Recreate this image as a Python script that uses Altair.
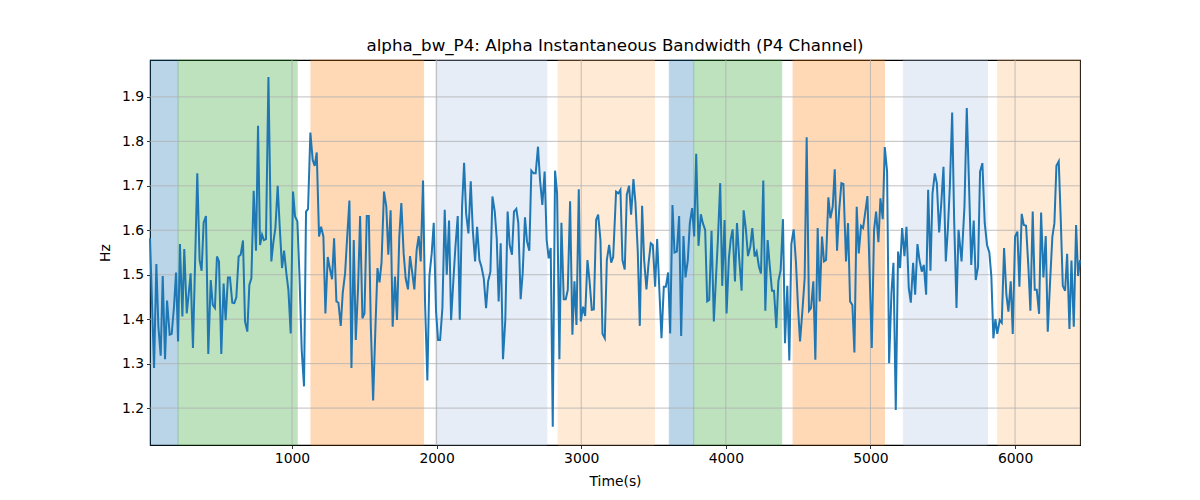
import altair as alt
import pandas as pd

TIME_S = [18, 46, 62, 76, 92, 106, 122, 136, 154, 168, 184, 198, 212, 225, 242, 255, 272, 285, 299, 315,
          330, 345, 361, 375, 389, 405, 421, 438, 452, 467, 481, 495, 511, 527, 541, 557, 571, 587, 601, 615,
          631, 645, 661, 675, 691, 705, 719, 735, 751, 765, 779, 793, 806, 820, 837, 857, 871, 885, 901, 915,
          931, 945, 961, 975, 991, 1007, 1021, 1037, 1051, 1067, 1083, 1097, 1111, 1127, 1143, 1157, 1171, 1187, 1201, 1217,
          1231, 1247, 1261, 1277, 1291, 1307, 1321, 1337, 1351, 1367, 1381, 1397, 1411, 1427, 1441, 1457, 1471, 1487, 1501, 1517,
          1531, 1545, 1561, 1577, 1591, 1605, 1619, 1636, 1652, 1666, 1682, 1696, 1712, 1726, 1742, 1756, 1772, 1786, 1802, 1816,
          1832, 1846, 1862, 1876, 1890, 1906, 1920, 1936, 1950, 1966, 1980, 1996, 2010, 2024, 2040, 2056, 2070, 2086, 2100, 2116,
          2130, 2146, 2160, 2176, 2190, 2204, 2220, 2236, 2250, 2266, 2280, 2296, 2310, 2326, 2342, 2356, 2372, 2386, 2402, 2416,
          2429, 2443, 2459, 2475, 2491, 2505, 2521, 2535, 2551, 2565, 2581, 2595, 2611, 2625, 2641, 2655, 2671, 2685, 2701, 2715,
          2731, 2747, 2761, 2775, 2789, 2803, 2819, 2833, 2849, 2863, 2879, 2893, 2907, 2923, 2939, 2953, 2967, 2983, 2997, 3013,
          3027, 3043, 3057, 3073, 3087, 3103, 3117, 3133, 3147, 3163, 3177, 3193, 3207, 3221, 3241, 3257, 3271, 3285, 3301, 3315,
          3331, 3345, 3361, 3375, 3391, 3405, 3421, 3435, 3451, 3465, 3481, 3495, 3511, 3525, 3541, 3555, 3571, 3585, 3601, 3615,
          3631, 3645, 3661, 3677, 3691, 3707, 3721, 3737, 3751, 3767, 3781, 3795, 3811, 3827, 3841, 3857, 3871, 3885, 3901, 3917,
          3931, 3945, 3961, 3975, 3991, 4005, 4021, 4034, 4047, 4063, 4077, 4093, 4109, 4123, 4139, 4153, 4169, 4183, 4199, 4213,
          4229, 4243, 4259, 4273, 4289, 4303, 4319, 4333, 4349, 4363, 4379, 4395, 4409, 4425, 4439, 4453, 4469, 4485, 4499, 4513,
          4529, 4545, 4559, 4575, 4589, 4605, 4619, 4635, 4649, 4665, 4679, 4693, 4709, 4723, 4739, 4753, 4769, 4783, 4799, 4813,
          4831, 4845, 4859, 4875, 4889, 4905, 4919, 4935, 4949, 4963, 4979, 4993, 5009, 5025, 5039, 5055, 5069, 5085, 5099, 5115,
          5129, 5145, 5159, 5175, 5191, 5205, 5219, 5235, 5249, 5265, 5279, 5295, 5309, 5325, 5339, 5355, 5369, 5385, 5399, 5415,
          5429, 5445, 5459, 5475, 5489, 5505, 5521, 5535, 5549, 5565, 5579, 5595, 5609, 5630, 5650, 5666, 5682, 5697, 5714, 5728,
          5744, 5758, 5774, 5790, 5806, 5822, 5836, 5850, 5864, 5877, 5894, 5908, 5924, 5940, 5954, 5970, 5984, 6000, 6016, 6030,
          6046, 6060, 6076, 6092, 6106, 6122, 6136, 6150, 6166, 6180, 6196, 6212, 6226, 6242, 6258, 6272, 6286, 6302, 6316, 6330,
          6346, 6360, 6376, 6390, 6406, 6422, 6436, 6449]

BW_HZ = [1.582, 1.29, 1.524, 1.383, 1.318, 1.497, 1.31, 1.442, 1.365, 1.367, 1.428, 1.505, 1.35, 1.569, 1.406, 1.558, 1.413, 1.455, 1.503, 1.335,
         1.53, 1.728, 1.533, 1.509, 1.617, 1.632, 1.322, 1.488, 1.432, 1.425, 1.541, 1.53, 1.322, 1.48, 1.398, 1.494, 1.494, 1.437, 1.436, 1.449,
         1.541, 1.545, 1.577, 1.395, 1.372, 1.477, 1.492, 1.689, 1.554, 1.835, 1.567, 1.59, 1.578, 1.58, 1.945, 1.53, 1.573, 1.605, 1.70, 1.608,
         1.515, 1.554, 1.503, 1.466, 1.368, 1.687, 1.631, 1.62, 1.503, 1.331, 1.249, 1.642, 1.648, 1.82, 1.758, 1.745, 1.775, 1.586, 1.608, 1.586,
         1.413, 1.54, 1.515, 1.49, 1.582, 1.44, 1.437, 1.385, 1.46, 1.503, 1.582, 1.667, 1.29, 1.578, 1.353, 1.473, 1.632, 1.402, 1.413, 1.632,
         1.632, 1.383, 1.217, 1.383, 1.515, 1.483, 1.527, 1.687, 1.653, 1.545, 1.645, 1.383, 1.496, 1.398, 1.586, 1.661, 1.548, 1.492, 1.467, 1.542,
         1.503, 1.467, 1.556, 1.587, 1.53, 1.712, 1.436, 1.262, 1.497, 1.548, 1.617, 1.417, 1.353, 1.353, 1.425, 1.646, 1.5, 1.622, 1.398, 1.488,
         1.563, 1.632, 1.399, 1.653, 1.752, 1.638, 1.593, 1.71, 1.601, 1.53, 1.608, 1.533, 1.518, 1.492, 1.425, 1.485, 1.507, 1.676, 1.642, 1.58,
         1.44, 1.571, 1.31, 1.398, 1.642, 1.567, 1.545, 1.642, 1.648, 1.616, 1.445, 1.503, 1.629, 1.575, 1.554, 1.734, 1.728, 1.728, 1.788, 1.713,
         1.657, 1.732, 1.578, 1.537, 1.56, 1.158, 1.734, 1.683, 1.31, 1.617, 1.445, 1.445, 1.466, 1.665, 1.365, 1.485, 1.387, 1.692, 1.395, 1.428,
         1.407, 1.533, 1.488, 1.421, 1.422, 1.623, 1.635, 1.578, 1.367, 1.357, 1.533, 1.567, 1.527, 1.54, 1.687, 1.683, 1.691, 1.533, 1.512, 1.68,
         1.70, 1.635, 1.715, 1.661, 1.552, 1.385, 1.655, 1.533, 1.467, 1.524, 1.571, 1.567, 1.473, 1.58, 1.46, 1.357, 1.473, 1.473, 1.505, 1.368,
         1.657, 1.55, 1.552, 1.632, 1.362, 1.587, 1.494, 1.533, 1.616, 1.65, 1.586, 1.772, 1.565, 1.636, 1.616, 1.601, 1.44, 1.443, 1.599, 1.395,
         1.488, 1.578, 1.706, 1.475, 1.623, 1.413, 1.537, 1.58, 1.602, 1.485, 1.616, 1.533, 1.464, 1.645, 1.601, 1.542, 1.563, 1.605, 1.541, 1.552,
         1.518, 1.503, 1.712, 1.419, 1.578, 1.522, 1.464, 1.464, 1.38, 1.485, 1.511, 1.625, 1.346, 1.475, 1.307, 1.569, 1.602, 1.527, 1.428, 1.35,
         1.417, 1.492, 1.809, 1.419, 1.425, 1.485, 1.309, 1.605, 1.44, 1.586, 1.53, 1.533, 1.674, 1.627, 1.653, 1.737, 1.554, 1.642, 1.706, 1.704,
         1.53, 1.616, 1.44, 1.432, 1.325, 1.653, 1.548, 1.61, 1.605, 1.638, 1.677, 1.518, 1.335, 1.601, 1.642, 1.573, 1.672, 1.625, 1.787, 1.732,
         1.301, 1.458, 1.527, 1.196, 1.552, 1.515, 1.605, 1.542, 1.608, 1.47, 1.437, 1.527, 1.455, 1.569, 1.533, 1.507, 1.522, 1.455, 1.691, 1.509,
         1.683, 1.728, 1.706, 1.595, 1.657, 1.743, 1.53, 1.601, 1.698, 1.865, 1.62, 1.425, 1.601, 1.53, 1.653, 1.875, 1.698, 1.522, 1.622, 1.488,
         1.518, 1.732, 1.751, 1.617, 1.567, 1.55, 1.496, 1.357, 1.4, 1.367, 1.398, 1.392, 1.56, 1.455, 1.417, 1.485, 1.367, 1.586, 1.597, 1.473,
         1.637, 1.612, 1.61, 1.518, 1.419, 1.642, 1.466, 1.466, 1.412, 1.64, 1.494, 1.587, 1.372, 1.483, 1.586, 1.616, 1.745, 1.755, 1.623, 1.475,
         1.464, 1.547, 1.378, 1.532, 1.383, 1.612, 1.497, 1.533]

BAND_START = [18, 212, 1131, 1993, 2840, 3609, 3778, 4465, 5227, 5880]
BAND_END = [212, 1036, 1910, 2762, 3506, 3778, 4386, 5097, 5809, 6449]
BAND_COLOR = ["#1f77b4", "#2ca02c", "#ff7f0e", "#aec7e8", "#ffbb78",
              "#1f77b4", "#2ca02c", "#ff7f0e", "#aec7e8", "#ffbb78"]

GRID_X = [1000, 2000, 3000, 4000, 5000, 6000]
GRID_Y = [1.2, 1.3, 1.4, 1.5, 1.6, 1.7, 1.8, 1.9]

X_DOMAIN = [18, 6449]
Y_DOMAIN = [1.117, 1.983]

series = pd.DataFrame({"t": TIME_S, "hz": BW_HZ})
bands = pd.DataFrame({"start": BAND_START, "end": BAND_END, "color": BAND_COLOR})
gx = pd.DataFrame({"gx": GRID_X})
gy = pd.DataFrame({"gy": GRID_Y})

xs = alt.Scale(domain=X_DOMAIN, nice=False, zero=False)
ys = alt.Scale(domain=Y_DOMAIN, nice=False, zero=False)

FONT = "DejaVu Sans"

x_axis = alt.Axis(
    title="Time(s)", values=GRID_X, format="d", grid=False,
    tickSize=3.5, tickColor="black", tickWidth=0.8,
    domainColor="black", domainWidth=0.8,
    labelFont=FONT, labelFontSize=13.9, labelColor="black", labelPadding=3,
    titleFont=FONT, titleFontSize=13.9, titleColor="black", titleFontWeight="normal",
    titlePadding=9,
)
y_axis = alt.Axis(
    title="Hz", values=GRID_Y, format=".1f", grid=False,
    tickSize=3.5, tickColor="black", tickWidth=0.8,
    domainColor="black", domainWidth=0.8,
    labelFont=FONT, labelFontSize=13.9, labelColor="black", labelPadding=3,
    titleFont=FONT, titleFontSize=13.9, titleColor="black", titleFontWeight="normal",
    titlePadding=9,
)

band_layer = alt.Chart(bands).mark_rect(opacity=0.3, strokeWidth=1).encode(
    x=alt.X("start:Q", scale=xs, axis=x_axis),
    x2="end:Q",
    color=alt.Color("color:N", scale=None),
    stroke=alt.Stroke("color:N", scale=None),
)

gridx_layer = alt.Chart(gx).mark_rule(color="#b0b0b0", strokeWidth=0.8).encode(
    x=alt.X("gx:Q", scale=xs, axis=x_axis)
)
gridy_layer = alt.Chart(gy).mark_rule(color="#b0b0b0", strokeWidth=0.8).encode(
    y=alt.Y("gy:Q", scale=ys, axis=y_axis)
)

line_layer = alt.Chart(series).mark_line(color="#1f77b4", strokeWidth=2).encode(
    x=alt.X("t:Q", scale=xs, axis=x_axis),
    y=alt.Y("hz:Q", scale=ys, axis=y_axis),
)

chart = alt.layer(band_layer, gridx_layer, gridy_layer, line_layer).properties(
    width=930,
    height=385,
    title=alt.TitleParams(
        "alpha_bw_P4: Alpha Instantaneous Bandwidth (P4 Channel)",
        font=FONT, fontSize=16.7, fontWeight="normal", color="black",
        anchor="middle", frame="group", offset=5,
    ),
    autosize=alt.AutoSizeParams(type="none"),
    padding={"left": 150, "top": 60, "right": 120, "bottom": 55},
    background="white",
).configure_view(stroke="black", strokeWidth=1.1)

chart.save("out.html", embed_options={"renderer": "svg", "actions": False})
